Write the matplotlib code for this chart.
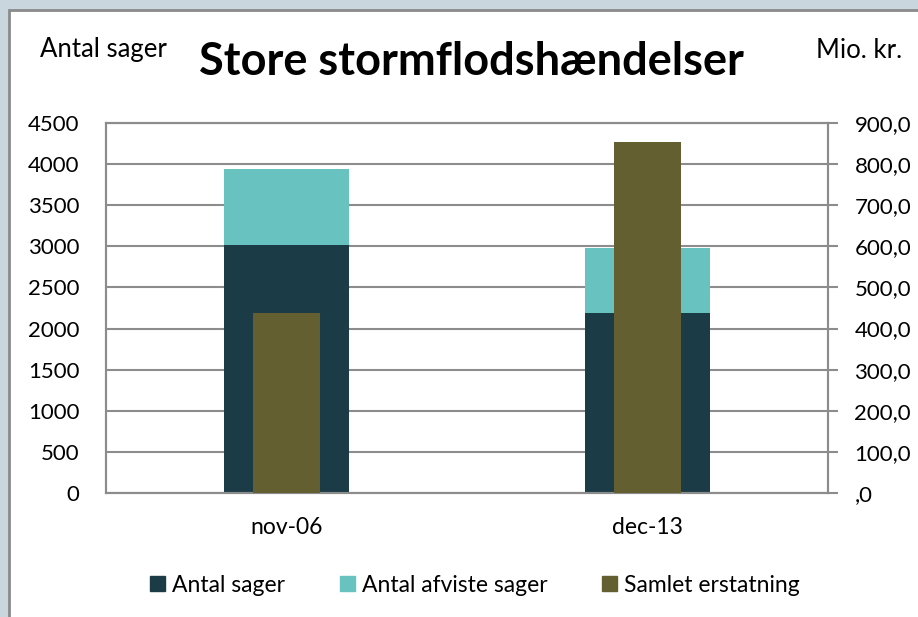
import matplotlib
matplotlib.use("Agg")
import matplotlib.pyplot as plt
from matplotlib.patches import Rectangle, Patch
from matplotlib.ticker import FuncFormatter

# data
categories = ["nov-06", "dec-13"]
antal_sager = [3020, 2185]
antal_afviste = [920, 795]
samlet_erstatning = [437, 855]   # mio. kr., right axis

col_sager = "#1b3c47"
col_afviste = "#67c2c0"
col_erstatning = "#645f30"
grid_col = "#8c8c8c"

plt.rcParams['font.family'] = ['Lato', 'DejaVu Sans']

W, H = 918, 617
fig = plt.figure(figsize=(W / 100, H / 100), dpi=100)
fig.patch.set_facecolor("#c9d6de")

# white chart frame
frame = Rectangle((9 / W, -0.05), 1.0, 1 - 10 / H + 0.05, transform=fig.transFigure,
                  facecolor="white", edgecolor="#8a8a8a", linewidth=2, zorder=-10)
fig.patches.append(frame)

ax = fig.add_axes([106 / W, (H - 493) / H, 722 / W, 370 / H])
ax.set_facecolor("none")
x = list(range(len(categories)))

ax.bar(x, antal_sager, width=0.345, color=col_sager, label="Antal sager", zorder=2)
ax.bar(x, antal_afviste, width=0.345, bottom=antal_sager, color=col_afviste,
       label="Antal afviste sager", zorder=2)
ax.set_ylim(0, 4500)
ax.set_yticks(range(0, 4501, 500))
ax.set_xlim(-0.5, 1.5)
ax.set_xticks(x)
ax.set_xticklabels(categories)
ax.yaxis.grid(True, color=grid_col, linewidth=1.5)
ax.set_axisbelow(True)
ax.tick_params(axis="y", length=0, pad=19, labelsize=16)
ax.tick_params(axis="x", length=0, pad=17, labelsize=16.5)
for s in ax.spines.values():
    s.set_color(grid_col)
    s.set_linewidth(1.5)

ax2 = ax.twinx()
ax2.bar(x, samlet_erstatning, width=0.185, color=col_erstatning,
        label="Samlet erstatning", zorder=3)
ax2.set_ylim(0, 900)
ax2.set_yticks(range(0, 901, 100))
ax2.yaxis.set_major_formatter(FuncFormatter(
    lambda v, p: ",0" if v == 0 else f"{v:.1f}".replace(".", ",")))
ax2.tick_params(axis="y", length=7, width=1.5, color=grid_col, pad=12, labelsize=16)
for s in ax2.spines.values():
    s.set_color(grid_col)
    s.set_linewidth(1.5)

fig.text(471 / W, 1 - 62 / H, "Store stormflodshændelser", ha="center", va="center",
         fontsize=32.5, fontweight="bold")
fig.text(40 / W, 1 - 50 / H, "Antal sager", ha="left", va="center", fontsize=18.5)
fig.text(816 / W, 1 - 50 / H, "Mio. kr.", ha="left", va="center", fontsize=18.5)

handles = [Patch(color=col_sager, label="Antal sager"),
           Patch(color=col_afviste, label="Antal afviste sager"),
           Patch(color=col_erstatning, label="Samlet erstatning")]
fig.legend(handles=handles, loc="center", bbox_to_anchor=(475 / W, 1 - 585 / H), ncol=3,
           frameon=False, fontsize=16.5, handlelength=0.65, handleheight=0.65,
           handletextpad=0.3, columnspacing=2.4)

fig.savefig("out.png", dpi=100, facecolor=fig.get_facecolor())
